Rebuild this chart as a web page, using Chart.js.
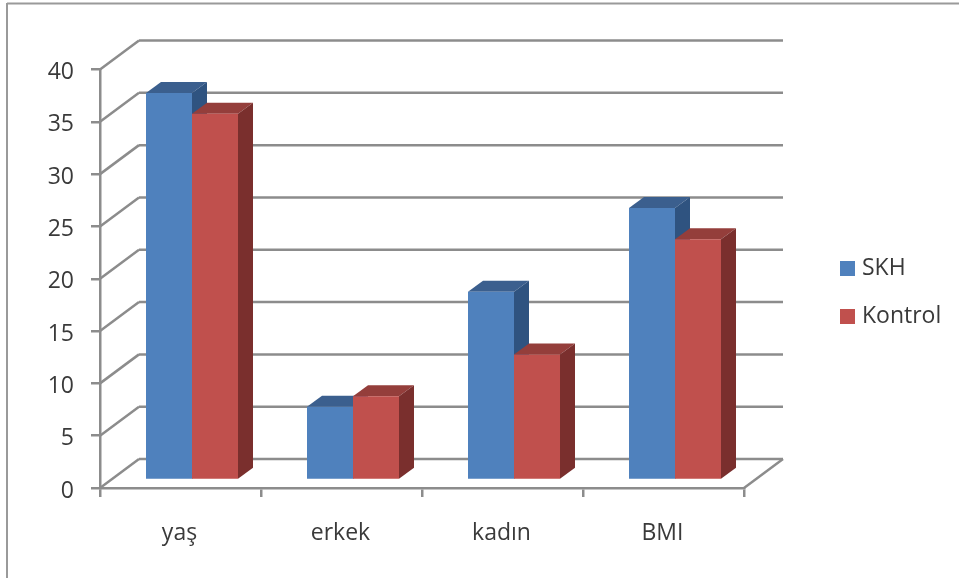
<!DOCTYPE html>
<html>
<head>
<meta charset="utf-8">
<style>
  html, body { margin: 0; padding: 0; background: #fff; overflow: hidden; }
  canvas { display: block; }
</style>
<script src="https://cdn.jsdelivr.net/npm/chart.js@4"></script>
</head>
<body>
<canvas id="chart" width="959" height="578"></canvas>
<script>
const categories = ['yaş', 'erkek', 'kadın', 'BMI'];
const skhValues = [37, 7, 18, 26];
const kontrolValues = [35, 8, 12, 23];
const seriesNames = ['SKH', 'Kontrol'];
const yTicks = [0, 5, 10, 15, 20, 25, 30, 35, 40];

const AXIS_COLOR = '#8c8c8c';
const TEXT_COLOR = '#3a3a3a';
const FONT = { family: '"Open Sans"', size: 23 };

// Perspective offsets of the pseudo-3D chart
const WALL = { dx: 39, dy: -29 };      // floor front edge to back wall
const BAR_SHIFT = { dx: 11.5, dy: -8 }; // bar front face relative to the axes
const BAR_DEPTH = { dx: 15, dy: -11 };  // extrusion of every bar

const faces = [
  { top: '#3b5f8e', side: '#2f5380' },
  { top: '#943e3b', side: '#7a2f2d' }
];

function line(ctx, x1, y1, x2, y2) {
  ctx.beginPath();
  ctx.moveTo(x1, y1);
  ctx.lineTo(x2, y2);
  ctx.stroke();
}

function poly(ctx, pts, color) {
  ctx.fillStyle = color;
  ctx.beginPath();
  pts.forEach((p, i) => (i ? ctx.lineTo(p[0], p[1]) : ctx.moveTo(p[0], p[1])));
  ctx.closePath();
  ctx.fill();
}

const frame3d = {
  id: 'frame3d',
  beforeDraw(chart) {
    // Outer border of the chart object
    const ctx = chart.ctx;
    ctx.save();
    ctx.strokeStyle = '#9a9a9a';
    ctx.lineWidth = 2;
    line(ctx, 7, 3.5, 959, 3.5);
    line(ctx, 7, 3, 7, 578);
    ctx.restore();
  },
  afterLayout(chart) {
    // Place the legend in the free strip on the right of the plot
    const lg = chart.legend;
    const w = lg.width, h = lg.height;
    lg.left = 844.5 - lg.options.labels.padding;
    lg.right = lg.left + w;
    lg.top = 232;
    lg.bottom = lg.top + h;
  },
  beforeDatasetsDraw(chart) {
    const { ctx, scales: { x, y } } = chart;
    const left = x.left, right = x.right;
    ctx.save();

    // Back wall gridlines and the slanted lines on the side wall
    ctx.strokeStyle = AXIS_COLOR;
    ctx.lineWidth = 2.5;
    yTicks.forEach(v => {
      const py = y.getPixelForValue(v);
      line(ctx, left, py, left + WALL.dx, py + WALL.dy);
      line(ctx, left + WALL.dx, py + WALL.dy, right + WALL.dx, py + WALL.dy);
    });
    // Right edge of the floor
    const py0 = y.getPixelForValue(0);
    line(ctx, right, py0, right + WALL.dx, py0 + WALL.dy);

    // Bar tops and sides, back series first so the next one overlaps it
    ctx.translate(BAR_SHIFT.dx, BAR_SHIFT.dy);
    [0, 1].forEach(i => {
      chart.getDatasetMeta(i).data.forEach(bar => {
        const l = bar.x - bar.width / 2, r = bar.x + bar.width / 2;
        const t = bar.y, b = bar.base;
        const { dx, dy } = BAR_DEPTH;
        poly(ctx, [[l, t], [r, t], [r + dx, t + dy], [l + dx, t + dy]], faces[i].top);
        poly(ctx, [[r, t], [r + dx, t + dy], [r + dx, b + dy], [r, b]], faces[i].side);
      });
    });
    // The library paints the front faces under this same shift
  },
  afterDatasetsDraw(chart) {
    chart.ctx.restore();
  }
};

new Chart(document.getElementById('chart'), {
  type: 'bar',
  data: {
    labels: categories,
    datasets: [
      { label: seriesNames[0], data: skhValues, backgroundColor: '#4f81bd', clip: false },
      { label: seriesNames[1], data: kontrolValues, backgroundColor: '#c0504d', clip: false }
    ]
  },
  options: {
    responsive: false,
    animation: false,
    events: [],
    layout: { padding: { top: 69.5, right: 215, left: 0, bottom: 0 } },
    datasets: { bar: { categoryPercentage: 92 / 161, barPercentage: 1 } },
    scales: {
      x: {
        afterFit(s) { s.height = 90; },
        grid: { drawOnChartArea: false, color: AXIS_COLOR, lineWidth: 2.5, tickLength: 9, offset: true },
        border: { color: AXIS_COLOR, width: 2.5 },
        ticks: { color: TEXT_COLOR, font: FONT, padding: 23, labelOffset: -1, maxRotation: 0 }
      },
      y: {
        min: 0,
        max: 40,
        afterFit(s) { s.width = 100; },
        grid: { drawOnChartArea: false, color: AXIS_COLOR, lineWidth: 2.5, tickLength: 9 },
        border: { color: AXIS_COLOR, width: 2.5 },
        ticks: { color: TEXT_COLOR, font: FONT, stepSize: 5, padding: 17, labelOffset: 3 }
      }
    },
    plugins: {
      title: { display: false },
      tooltip: { enabled: false },
      legend: {
        position: 'chartArea',
        align: 'start',
        labels: {
          color: TEXT_COLOR,
          font: FONT,
          boxWidth: 6,
          boxHeight: 6,
          padding: 25,
          generateLabels(chart) {
            // Thick outline makes a 15px swatch sitting close to its label
            return chart.data.datasets.map((d, i) => ({
              text: d.label,
              fillStyle: d.backgroundColor,
              strokeStyle: d.backgroundColor,
              lineWidth: 9,
              fontColor: TEXT_COLOR,
              datasetIndex: i
            }));
          }
        }
      }
    }
  },
  plugins: [frame3d]
});
</script>
</body>
</html>
